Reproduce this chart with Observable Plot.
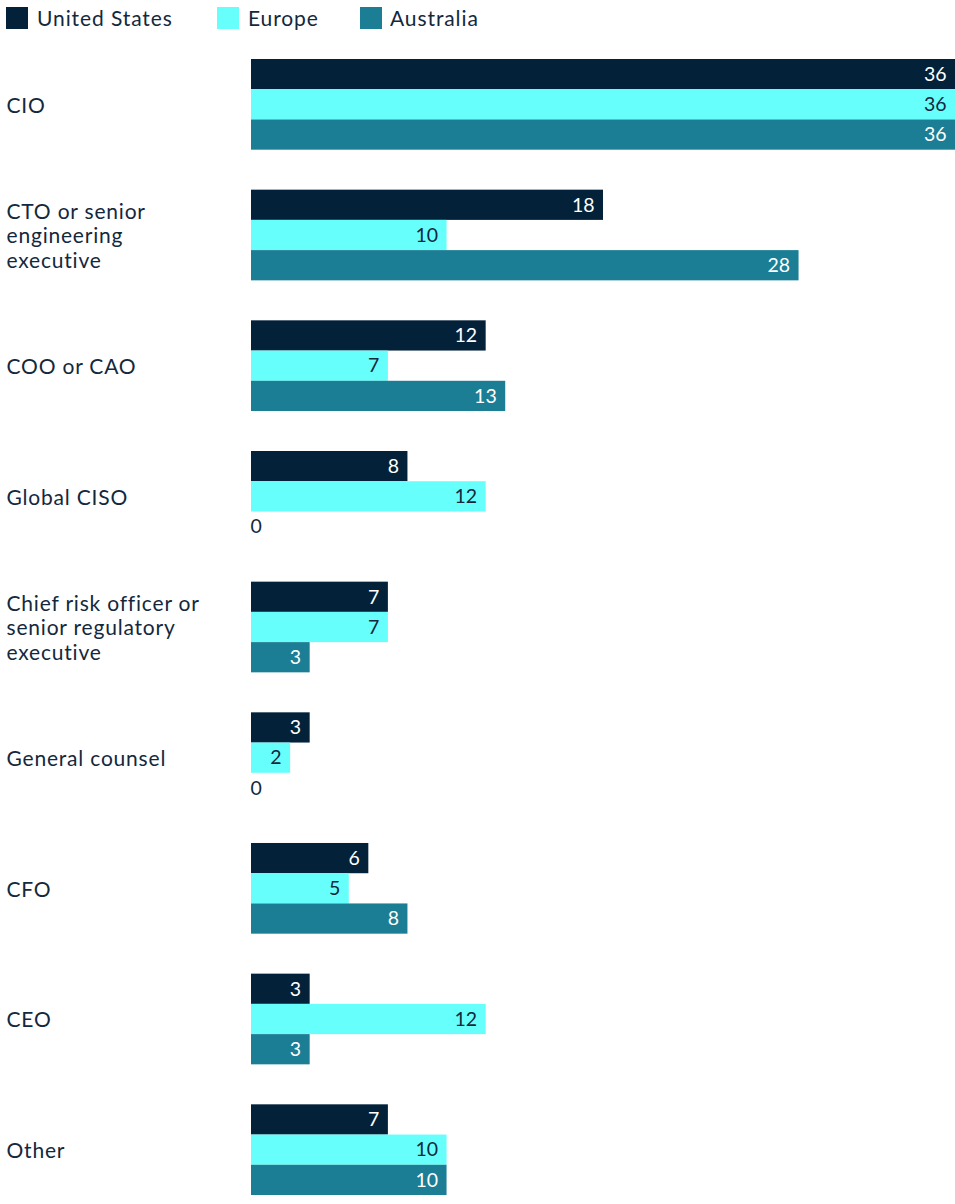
<!DOCTYPE html>
<html>
<head>
<meta charset="utf-8">
<script src="https://cdn.jsdelivr.net/npm/d3@7"></script>
<script src="https://cdn.jsdelivr.net/npm/@observablehq/plot@0.6"></script>
<style>
  html, body { margin: 0; padding: 0; background: #fff; }
  body { width: 955px; font-family: Lato, "Open Sans", sans-serif; color: #13283d; }
  #legend { position: relative; height: 40px; font-size: 21px; letter-spacing: 0.9px; }
  .sw { position: absolute; top: 7px; width: 22px; height: 22px; }
  .lt { position: absolute; top: 5px; line-height: 26px; }
  #chart svg { display: block; }
  #chart .catlabel text { letter-spacing: 0.8px; }
</style>
</head>
<body>
<div id="legend"></div>
<div id="chart"></div>
<script>
const categories = ["CIO", "CTO or senior engineering executive", "COO or CAO", "Global CISO",
  "Chief risk officer or senior regulatory executive", "General counsel", "CFO", "CEO", "Other"];
const categoryLabels = ["CIO", "CTO or senior\nengineering\nexecutive", "COO or CAO", "Global CISO",
  "Chief risk officer or\nsenior regulatory\nexecutive", "General counsel", "CFO", "CEO", "Other"];
const regions = ["United States", "Europe", "Australia"];
const colors = ["#03223a", "#66fffc", "#1b7e95"];
const unitedStates = [36, 18, 12, 8, 7, 3, 6, 3, 7];
const europe = [36, 10, 7, 12, 7, 2, 5, 12, 10];
const australia = [36, 28, 13, 0, 3, 0, 8, 3, 10];

const seriesValues = [unitedStates, europe, australia];
const data = [];
categories.forEach((c, i) => {
  regions.forEach((r, j) => data.push({category: c, region: r, value: seriesValues[j][i]}));
});

// Legend
const legend = document.getElementById("legend");
const legendX = [[6, 37], [217, 248], [360, 390]];
regions.forEach((r, j) => {
  const sw = document.createElement("div");
  sw.className = "sw"; sw.style.left = legendX[j][0] + "px"; sw.style.background = colors[j];
  const t = document.createElement("div");
  t.className = "lt"; t.style.left = legendX[j][1] + "px"; t.textContent = r;
  legend.append(sw, t);
});

const labelOf = new Map(categories.map((c, i) => [c, categoryLabels[i]]));
const textColor = "#13283d";

const chart = Plot.plot({
  width: 955,
  height: 1164,
  marginLeft: 251,
  marginRight: 0,
  marginTop: 19,
  marginBottom: 9,
  style: {fontFamily: "Lato, 'Open Sans', sans-serif", color: textColor, background: "#fff"},
  x: {domain: [0, 36], axis: null},
  y: {domain: regions, axis: null, padding: 0, round: false},
  fy: {domain: categories, axis: null, paddingInner: 0.306, paddingOuter: 0, round: false},
  color: {domain: regions, range: colors},
  marks: [
    Plot.barX(data, {x: "value", y: "region", fy: "category", fill: "region"}),
    Plot.text(data.filter(d => d.value > 0 && d.region !== "Europe"), {
      x: "value", y: "region", fy: "category", text: d => String(d.value),
      textAnchor: "end", dx: -9, fill: "#ffffff", fontSize: 19.5
    }),
    Plot.text(data.filter(d => d.value > 0 && d.region === "Europe"), {
      x: "value", y: "region", fy: "category", text: d => String(d.value),
      textAnchor: "end", dx: -9, fill: textColor, fontSize: 19.5
    }),
    Plot.text(data.filter(d => d.value === 0), {
      x: "value", y: "region", fy: "category", text: d => String(d.value),
      textAnchor: "start", dx: -1, fill: textColor, fontSize: 19.5
    }),
    Plot.text(categories, {
      fy: d => d, text: d => labelOf.get(d), frameAnchor: "left",
      textAnchor: "start", dx: -245, fill: textColor, fontSize: 21, lineHeight: 1.17,
      className: "catlabel"
    })
  ]
});
document.getElementById("chart").append(chart);
</script>
</body>
</html>
